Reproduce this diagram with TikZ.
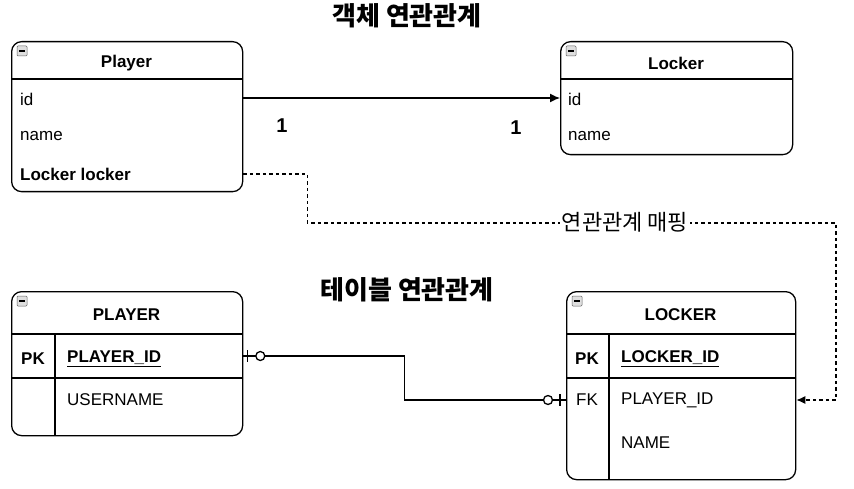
\documentclass[tikz,border=0pt]{standalone}
\usepackage{fontspec}
\setmainfont{Liberation Sans}
\newfontfamily\kr{Noto Sans CJK KR}
\usetikzlibrary{arrows.meta}

\tikzset{
	box/.style={draw, line width=1.3pt, rounded corners=10pt, inner sep=0pt, anchor=north west},
	field/.style={anchor=west, inner sep=0pt, font=\fontsize{17}{20}\selectfont},
	head/.style={inner sep=0pt, yshift=-2pt, font=\fontsize{17}{20}\selectfont\bfseries},
	title/.style={inner sep=0pt, font=\fontsize{26}{30}\selectfont\kr\bfseries},
	icon/.style={draw=gray!80!black, fill=gray!25, line width=0.5pt, rounded corners=1pt},
	ref/.style={dash pattern=on 3.5pt off 3pt, line width=1.3pt},
	wire/.style={line width=1.3pt},
}

\begin{document}
\begin{tikzpicture}[x=1pt, y=-1pt]
			%%%%% START %%%%%
			\useasboundingbox[fill=white] (0,0) rectangle (854,489);
			
			% titles
			\node[title] (objtitle) at (407,16) {객체 연관관계};
			\node[title] (tbltitle) at (407,290) {테이블 연관관계};
			
			% class Player
			\node[box, minimum width=231pt, minimum height=150pt] (player) at (11,41) {};
			\draw[wire] (11,79) -- (242,79);
			\draw[icon] (17,46) rectangle (27,56);
			\draw[line width=1.2pt] (19,51) -- (25,51);
			\node[head] (player-head) at (126.5,61) {Player};
			\node[field] (player-id) at (20,99) {id};
			\node[field] (player-name) at (20,136) {name};
			\node[field, font=\fontsize{17}{20}\selectfont\bfseries] (player-lk) at (20,174) {Locker locker};
			
			% class Locker
			\node[box, minimum width=232pt, minimum height=113pt] (locker) at (560,41) {};
			\draw[wire] (560,79) -- (792,79);
			\draw[icon] (566,46) rectangle (576,56);
			\draw[line width=1.2pt] (568,51) -- (574,51);
			\node[head] (locker-head) at (676,61) {Locker};
			\node[field] (locker-id) at (568,99) {id};
			\node[field] (locker-name) at (568,136) {name};
			
			\draw[wire, -{Latex[length=10pt, width=9pt]}] (player.east |- 0,98) -- (locker.west |- 0,98);
			\node[head, font=\fontsize{20}{23}\selectfont\bfseries] (one-a) at (282,124) {1};
			\node[head, font=\fontsize{20}{23}\selectfont\bfseries] (one-b) at (516,126) {1};
			
			% table PLAYER
			\node[box, minimum width=231pt, minimum height=144pt] (playertbl) at (11,291) {};
			\draw[wire] (11,334) -- (242,334);
			\draw[wire] (11,378) -- (242,378);
			\draw[wire] (55,334) -- (55,435);
			\draw[icon] (17,296) rectangle (27,306);
			\draw[line width=1.2pt] (19,301) -- (25,301);
			\node[head] (pt-head) at (126.5,313) {PLAYER};
			\node[head] (pt-pk) at (33,357) {PK};
			\node[field, yshift=-2pt, font=\fontsize{17}{20}\selectfont\bfseries] (pt-id) at (67,357) {\underline{PLAYER\_ID}};
			\node[field] (pt-name) at (67,400) {USERNAME};
			
			% table LOCKER
			\node[box, minimum width=229pt, minimum height=188pt] (lockertbl) at (566,291) {};
			\draw[wire] (566,334) -- (795,334);
			\draw[wire] (566,378) -- (795,378);
			\draw[wire] (609,334) -- (609,479);
			\draw[icon] (572,296) rectangle (582,306);
			\draw[line width=1.2pt] (574,301) -- (580,301);
			\node[head] (lk-head) at (680.5,313) {LOCKER};
			\node[head] (lk-pk) at (587,357) {PK};
			\node[field, yshift=-2pt, font=\fontsize{17}{20}\selectfont\bfseries] (lk-id) at (621,357) {\underline{LOCKER\_ID}};
			\node[field] (lk-fk) at (576,400) {FK};
			\node[field] (lk-pid) at (621,400) {PLAYER\_ID};
			\node[field] (lk-name) at (621,443) {NAME};
			
			% one to zero-or-one
			\draw[wire] (playertbl.east |- 0,356) -- ++(161,0) |- (lockertbl.west |- 0,400);
			\draw[wire] ([xshift=4pt]playertbl.east |- 0,356) ++(0,-6) -- ++(0,12);
			\draw[wire, fill=white] ([xshift=17pt]playertbl.east |- 0,356) circle (4.5pt);
			\draw[wire] ([xshift=-6pt]lockertbl.west |- 0,400) ++(0,-6) -- ++(0,12);
			\draw[wire, fill=white] ([xshift=-18pt]lockertbl.west |- 0,400) circle (4.5pt);
			
			% mapping
			\draw[ref, -{Latex[length=9pt, width=8pt]}] (player.east |- player-lk) -- ++(64,0) |- (836,223) |- (lockertbl.east |- 0,400);
			\node[fill=white, inner sep=2pt, font=\fontsize{22}{26}\selectfont\kr] (mapping) at (625,222) {연관관계 매핑};
			
			%%%%% END %%%%%
\end{tikzpicture}
\end{document}
